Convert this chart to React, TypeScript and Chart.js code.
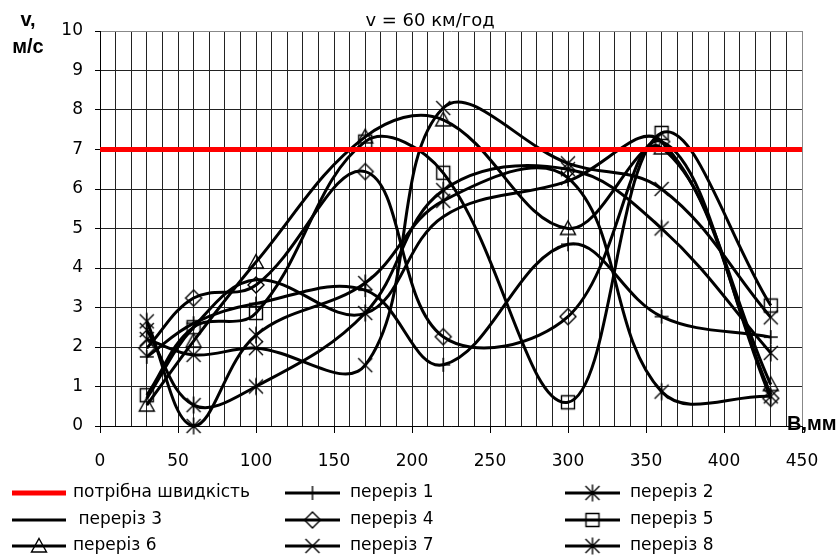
import { useEffect, useRef } from 'react';
import { Chart, registerables } from 'chart.js';

Chart.register(...registerables);

// ---- data ----
const xPositions = [30, 60, 100, 170, 220, 300, 360, 430];
const requiredSpeed = 7;
const section1 = [1.75, 2.6, 3.1, 3.44, 1.55, 4.6, 2.77, 2.25];
const section2 = [2.43, 0.53, 1.0, 2.86, 5.97, 6.5, 5.0, 1.85];
const section3 = [0.7, 2.5, 3.7, 2.85, 5.3, 6.2, 7.2, 0.8];
const section4 = [1.97, 3.24, 3.57, 6.44, 2.26, 2.77, 7.2, 0.7];
const section5 = [0.78, 2.5, 2.86, 7.2, 6.41, 0.6, 7.42, 3.05];
const section6 = [0.53, 2.15, 4.15, 7.32, 7.75, 5.0, 7.04, 1.05];
const section7 = [2.2, 1.8, 1.97, 1.54, 8.05, 6.65, 6.0, 2.75];
const section8 = [2.65, 0.0, 2.3, 3.62, 5.7, 6.28, 0.87, 0.75];

const seriesValues = [section1, section2, section3, section4, section5, section6, section7, section8];
const seriesNames = ['переріз 1', 'переріз 2', ' переріз 3', 'переріз 4', 'переріз 5', 'переріз 6', 'переріз 7', 'переріз 8'];
const seriesMarkers = ['cross', 'star', 'none', 'diamond', 'square', 'triangle', 'x', 'star'];
const requiredName = 'потрібна швидкість';
const chartTitle = 'v = 60 км/год';
const yTitleLines = ['v,', 'м/с'];
const xTitle = 'В,мм';
const xMin = 0;
const xMax = 450;
const xLabelStep = 50;
const xGridStep = 10;
const yMin = 0;
const yMax = 10;
const yStep = 1;

const FONT = '"DejaVu Sans", "Liberation Sans", Arial, sans-serif';
const BOLD_FONT = '"Liberation Sans", Arial, sans-serif';

function makeMarker(kind: string): HTMLCanvasElement {
  const size = 20;
  const c = document.createElement('canvas');
  c.width = size;
  c.height = size;
  const g = c.getContext('2d')!;
  g.strokeStyle = '#000';
  g.lineWidth = 1.4;
  const m = size / 2;
  g.beginPath();
  switch (kind) {
    case 'square':
      g.rect(m - 6.5, m - 6.5, 13, 13);
      break;
    case 'diamond':
      g.moveTo(m, m - 8);
      g.lineTo(m + 8, m);
      g.lineTo(m, m + 8);
      g.lineTo(m - 8, m);
      g.closePath();
      break;
    case 'triangle':
      g.moveTo(m, m - 7.5);
      g.lineTo(m + 7.5, m + 6);
      g.lineTo(m - 7.5, m + 6);
      g.closePath();
      break;
    case 'cross':
      g.moveTo(m - 7, m);
      g.lineTo(m + 7, m);
      g.moveTo(m, m - 7);
      g.lineTo(m, m + 7);
      break;
    case 'x':
      g.moveTo(m - 7, m - 7);
      g.lineTo(m + 7, m + 7);
      g.moveTo(m + 7, m - 7);
      g.lineTo(m - 7, m + 7);
      break;
    case 'star':
      g.moveTo(m - 7, m - 7);
      g.lineTo(m + 7, m + 7);
      g.moveTo(m + 7, m - 7);
      g.lineTo(m - 7, m + 7);
      g.moveTo(m, m - 8.5);
      g.lineTo(m, m + 8.5);
      break;
    default:
      break;
  }
  g.stroke();
  return c;
}

export default function App() {
  const ref = useRef<HTMLCanvasElement | null>(null);

  useEffect(() => {
    const canvas = ref.current;
    if (!canvas) return;
    const markers = seriesMarkers.map((k) => (k === 'none' ? null : makeMarker(k)));

    const datasets: any[] = [
      {
        label: requiredName,
        data: [
          { x: xMin, y: requiredSpeed },
          { x: xMax, y: requiredSpeed },
        ],
        borderColor: '#ff0000',
        borderWidth: 5,
        pointRadius: 0,
        tension: 0,
        clip: false,
      },
    ];
    seriesValues.forEach((vals, i) => {
      datasets.push({
        label: seriesNames[i],
        data: xPositions.map((x, j) => ({ x, y: vals[j] })),
        borderColor: '#000',
        borderWidth: 3,
        tension: 0.38,
        pointStyle: markers[i] || 'circle',
        pointRadius: markers[i] ? 8 : 0,
        pointHoverRadius: markers[i] ? 8 : 0,
        clip: false,
      });
    });

    const legendRows = [493, 520, 546];
    const legendLineX = [
      [12, 66],
      [285, 340],
      [565, 620],
    ];
    const legendTextX = [73, 350, 630];

    const decor = {
      id: 'decor',
      afterDraw(chart: any) {
        const ctx = chart.ctx as CanvasRenderingContext2D;
        ctx.save();
        ctx.fillStyle = '#000';
        ctx.textAlign = 'center';
        ctx.textBaseline = 'alphabetic';
        ctx.font = `18px ${FONT}`;
        ctx.fillText(chartTitle, 430, 26);
        ctx.font = `bold 20px ${BOLD_FONT}`;
        ctx.fillText(yTitleLines[0], 28, 26);
        ctx.fillText(yTitleLines[1], 28, 53);
        ctx.textAlign = 'left';
        ctx.fillText(xTitle, 787, 430);

        // legend
        const items: { name: string; marker: HTMLCanvasElement | null; red: boolean }[] = [
          { name: requiredName, marker: null, red: true },
        ];
        seriesNames.forEach((n, i) => items.push({ name: n, marker: markers[i], red: false }));
        ctx.font = `17px ${FONT}`;
        ctx.textBaseline = 'middle';
        items.forEach((it, idx) => {
          const row = Math.floor(idx / 3);
          const col = idx % 3;
          const y = legendRows[row];
          const [x1, x2] = legendLineX[col];
          ctx.beginPath();
          ctx.strokeStyle = it.red ? '#ff0000' : '#000';
          ctx.lineWidth = it.red ? 5 : 3;
          ctx.moveTo(x1, y);
          ctx.lineTo(x2, y);
          ctx.stroke();
          if (it.marker) {
            const cx = (x1 + x2) / 2;
            ctx.drawImage(it.marker, cx - it.marker.width / 2, y - it.marker.height / 2);
          }
          ctx.fillStyle = '#000';
          ctx.fillText(it.name, legendTextX[col], y);
        });
        ctx.restore();
      },
    };

    const tickFont = { family: FONT, size: 17 };

    const chart = new Chart(canvas, {
      type: 'line',
      data: { datasets },
      options: {
        responsive: false,
        animation: false,
        devicePixelRatio: 1,
        layout: { padding: { left: 40, right: 38, top: 31, bottom: 0 } },
        plugins: {
          legend: { display: false },
          title: { display: false },
          tooltip: { enabled: false },
        },
        scales: {
          x: {
            type: 'linear',
            min: xMin,
            max: xMax,
            ticks: {
              stepSize: xGridStep,
              maxTicksLimit: 100,
              autoSkip: false,
              maxRotation: 0,
              minRotation: 0,
              padding: 18,
              color: '#000',
              font: tickFont,
              callback: (v: any) => (Number(v) % xLabelStep === 0 ? String(v) : ''),
            },
            grid: {
              color: (c: any) => (c.tick && c.tick.value === xMax ? '#888' : '#222'),
              lineWidth: 1,
              tickLength: 7,
              tickColor: (c: any) =>
                c.tick && c.tick.value % xLabelStep === 0 ? '#000' : 'rgba(0,0,0,0)',
            },
            border: { color: '#000', width: 1 },
            afterFit: (s: any) => {
              s.height = 130;
            },
          },
          y: {
            min: yMin,
            max: yMax,
            ticks: {
              stepSize: yStep,
              padding: 12,
              color: '#000',
              font: tickFont,
            },
            grid: {
              color: (c: any) => (c.tick && c.tick.value === yMax ? '#888' : '#222'),
              lineWidth: 1,
              tickLength: 5,
              tickColor: '#000',
            },
            border: { color: '#000', width: 1 },
            afterFit: (s: any) => {
              s.width = 60;
            },
          },
        },
      } as any,
      plugins: [decor],
    });

    return () => {
      chart.destroy();
    };
  }, []);

  return (
    <div style={{ position: 'fixed', left: 0, top: 0, width: 840, height: 556, background: '#fff' }}>
      <canvas ref={ref} width={840} height={556} style={{ width: 840, height: 556, display: 'block' }} />
    </div>
  );
}
